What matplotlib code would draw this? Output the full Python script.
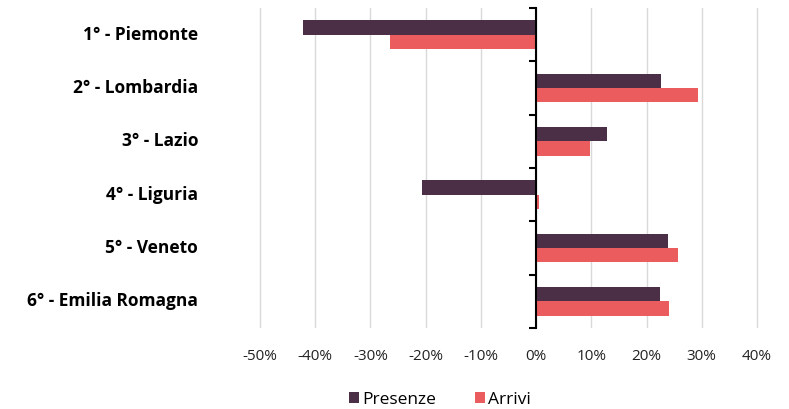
import matplotlib
matplotlib.use("Agg")
import matplotlib.pyplot as plt
import numpy as np

categories = ["1° - Piemonte", "2° - Lombardia", "3° - Lazio", "4° - Liguria",
              "5° - Veneto", "6° - Emilia Romagna"]
presenze = [-42.2, 22.6, 12.8, -20.7, 23.8, 22.5]
arrivi = [-26.4, 29.3, 9.7, 0.6, 25.7, 24.1]
xticks = [-50, -40, -30, -20, -10, 0, 10, 20, 30, 40]

c_pres = "#4B2F47"
c_arr = "#EB5C5F"

plt.rcParams['font.family'] = ['Open Sans', 'DejaVu Sans']

fig = plt.figure(figsize=(7.89, 4.09), dpi=100)
ppu = (757 - 260) / 90.0
left_px = 260 - 0.5 * ppu
right_px = 757 + 0.5 * ppu
ax = fig.add_axes([left_px/789, 1-328/409, (right_px-left_px)/789, (328-8)/409])

y = np.arange(len(categories))
h = 0.27
ax.barh(y - h/2, presenze, height=h, color=c_pres, label="Presenze", zorder=3)
ax.barh(y + h/2, arrivi, height=h, color=c_arr, label="Arrivi", zorder=3)

ax.set_xlim(-50.5, 40.5)
ax.set_ylim(len(categories) - 0.5, -0.5)
ax.set_xticks(xticks)
ax.set_xticklabels([f"{v}%" for v in xticks], fontsize=11, color="#222222")
ax.tick_params(axis='x', length=0, pad=15)
ax.grid(axis='x', color="#D9D9D9", linewidth=1, zorder=0)

for s in ['top', 'right', 'bottom']:
    ax.spines[s].set_visible(False)
ax.spines['left'].set_position(('data', 0))
ax.spines['left'].set_color('black')
ax.spines['left'].set_linewidth(1.5)
ax.spines['left'].set_zorder(4)
ax.set_yticks(np.arange(len(categories) + 1) - 0.5)
ax.set_yticklabels([])
ax.tick_params(axis='y', direction='out', length=5, width=1.5, color='black')

trans = ax.get_yaxis_transform()
axw = right_px - left_px
for yi, cat in zip(y, categories):
    ax.text(-(left_px - 198) / axw, yi, cat, transform=trans, ha='right', va='center',
            fontsize=12.5, fontweight='bold', color='black')

leg = fig.legend(loc='center', bbox_to_anchor=(440/789, 1-400/409), ncol=2,
                 frameon=False, fontsize=12.5, handlelength=0.6, handleheight=0.6,
                 handletextpad=0.2, columnspacing=2.2)

fig.savefig("out.png", dpi=100)
